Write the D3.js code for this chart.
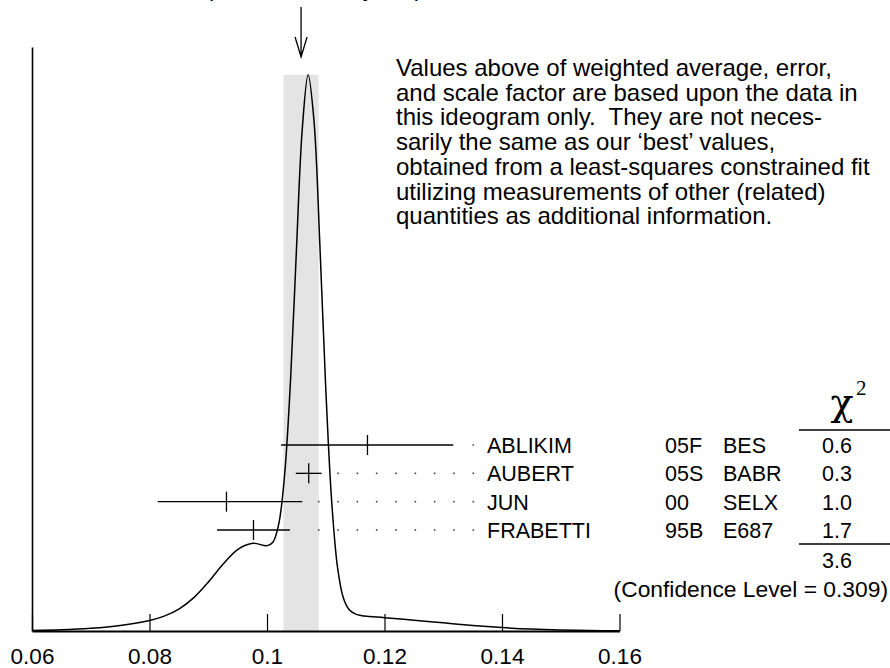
<!DOCTYPE html>
<html lang="en">
<head>
<meta charset="UTF-8">
<title>Ideogram</title>
<script src="https://d3js.org/d3.v7.min.js"></script>
<style>
    html, body { margin: 0; padding: 0; background: #fff; }
    svg { display: block; font-family: "Liberation Sans", Arial, Helvetica, sans-serif; }
</style>
</head>
<body>
<div id="chart"></div>
<script>
    var names = ["ABLIKIM", "AUBERT", "JUN", "FRABETTI"];
    var years = ["05F", "05S", "00", "95B"];
    var experiments = ["BES", "BABR", "SELX", "E687"];
    var values = [0.1171, 0.1071, 0.0931, 0.0977];
    var errLo = [0.0147, 0.0022, 0.0117, 0.0062];
    var errHi = [0.0146, 0.0022, 0.0129, 0.0062];
    var chi2 = ["0.6", "0.3", "1.0", "1.7"];
    var chi2Total = "3.6";
    var confLevel = "0.309";

    // weighted average and its (scaled) error
    var avgValue = 0.1058;
    var avgError = 0.0030;

    var xTicks = [0.06, 0.08, 0.1, 0.12, 0.14, 0.16];

    // ideogram curve, relative height (1 = peak)
    var curveX = [0.060, 0.065, 0.070, 0.075, 0.080, 0.0825, 0.085, 0.0875, 0.090, 0.0925,
        0.095, 0.0976, 0.100, 0.101, 0.102, 0.103, 0.104, 0.105, 0.106, 0.107,
        0.108, 0.109, 0.110, 0.111, 0.112, 0.113, 0.114, 0.115, 0.116, 0.117,
        0.120, 0.125, 0.130, 0.135, 0.140, 0.145, 0.150, 0.155, 0.160];
    var curveY = [0.0008, 0.0021, 0.0050, 0.0101, 0.0190, 0.0268, 0.0395, 0.0596, 0.0878, 0.1198,
        0.1465, 0.1577, 0.1534, 0.1596, 0.1924, 0.2809, 0.4495, 0.6825, 0.902, 1.0,
        0.917, 0.694, 0.4366, 0.2344, 0.1148, 0.0592, 0.0380, 0.0307, 0.0280, 0.0265,
        0.0240, 0.0195, 0.0147, 0.0100, 0.0062, 0.0034, 0.0017, 0.0007, 0.0003];

    var note = [
        "Values above of weighted average, error,",
        "and scale factor are based upon the data in",
        "this ideogram only.  They are not neces-",
        "sarily the same as our \u2018best\u2019 values,",
        "obtained from a least-squares constrained fit",
        "utilizing measurements of other (related)",
        "quantities as additional information."
    ];

    var width = 890, height = 668;

    var svg = d3.select("#chart").append("svg")
        .attr("width", width)
        .attr("height", height);

    var x = d3.scaleLinear().domain([0.06, 0.16]).range([32, 619.5]);
    var y = d3.scaleLinear().domain([0, 1.05]).range([631, 47]);
    var row = d3.scalePoint().domain(names).range([445, 530]);

    // band of weighted average +- error
    svg.append("rect")
        .attr("x", x(avgValue - avgError))
        .attr("y", y(1))
        .attr("width", x(avgValue + avgError) - x(avgValue - avgError))
        .attr("height", y(0) - y(1))
        .attr("fill", "#e4e4e4");

    // arrow above the average
    var ax = x(avgValue);
    svg.append("path")
        .attr("d", "M" + ax + ",7V57M" + (ax - 6) + ",37L" + ax + ",57L" + (ax + 6) + ",37")
        .attr("fill", "none")
        .attr("stroke", "#000")
        .attr("stroke-width", 1.3);

    // header line, almost entirely off the top of the page
    svg.append("text")
        .attr("x", 314)
        .attr("y", -4)
        .attr("text-anchor", "middle")
        .style("font-size", "24px")
        .text("(Error scaled by 1.3)");

    // axes
    var xAxis = d3.axisBottom(x)
        .tickValues(xTicks)
        .tickSize(-17)
        .tickSizeOuter(0)
        .tickPadding(17)
        .tickFormat(d3.format("~g"));

    var gx = svg.append("g")
        .attr("transform", "translate(0," + y(0) + ")")
        .call(xAxis);
    gx.select(".domain").attr("stroke-width", 2);
    gx.selectAll(".tick line").attr("stroke-width", 1.2);
    gx.selectAll(".tick text")
        .attr("fill", "#000")
        .style("font-size", "22.5px")
        .style("font-family", "\"Liberation Sans\", Arial, sans-serif");

    var gy = svg.append("g")
        .attr("transform", "translate(" + x(0.06) + ",0)")
        .call(d3.axisLeft(y).tickValues([]).tickSizeOuter(0));
    gy.select(".domain").attr("stroke-width", 1.6);

    // ideogram curve
    var pts = curveX.map(function (d, i) { return [d, curveY[i]]; });
    var line = d3.line()
        .x(function (d) { return x(d[0]); })
        .y(function (d) { return y(d[1]); })
        .curve(d3.curveCatmullRom.alpha(0.5));

    svg.append("path")
        .datum(pts)
        .attr("d", line)
        .attr("fill", "none")
        .attr("stroke", "#000")
        .attr("stroke-width", 1.5);

    // dotted leaders
    var dotStart = x(avgValue + avgError);
    var dotEnd = 473.3;
    var nDots = 8;
    names.forEach(function (n, i) {
        var barEnd = x(values[i] + errHi[i]);
        var dots = d3.range(nDots + 1)
            .map(function (k) { return dotStart + k * (dotEnd - dotStart) / nDots; })
            .filter(function (px) { return px > barEnd + 6; });
        svg.selectAll(null)
            .data(dots)
            .enter().append("rect")
            .attr("x", function (d) { return d - 0.8; })
            .attr("y", row(n) - 0.8)
            .attr("width", 1.6)
            .attr("height", 1.6)
            .attr("fill", "#444");
    });

    // error bars
    var bars = svg.selectAll(".meas")
        .data(names)
        .enter().append("g")
        .attr("class", "meas")
        .attr("stroke", "#000")
        .attr("stroke-width", 1.3);

    bars.append("line")
        .attr("x1", function (d, i) { return x(values[i] - errLo[i]); })
        .attr("x2", function (d, i) { return x(values[i] + errHi[i]); })
        .attr("y1", function (d) { return row(d); })
        .attr("y2", function (d) { return row(d); });

    bars.append("line")
        .attr("x1", function (d, i) { return x(values[i]); })
        .attr("x2", function (d, i) { return x(values[i]); })
        .attr("y1", function (d) { return row(d) - 10; })
        .attr("y2", function (d) { return row(d) + 10; });

    // table of measurements
    var tfont = "21.5px";
    function col(arr, xpos, anchor) {
        svg.selectAll(null)
            .data(arr)
            .enter().append("text")
            .attr("x", xpos)
            .attr("y", function (d, i) { return row(names[i]) + 8; })
            .attr("text-anchor", anchor)
            .style("font-size", tfont)
            .text(function (d) { return d; });
    }
    col(names, 487, "start");
    col(years, 665, "start");
    col(experiments, 723, "start");
    col(chi2, 837, "middle");

    // chi-square header and rules
    svg.append("text")
        .attr("x", 842)
        .attr("y", 415)
        .attr("text-anchor", "middle")
        .style("font-family", "\"DejaVu Serif\", serif")
        .style("font-size", "38px")
        .text("\u03c7");
    svg.append("text")
        .attr("x", 856)
        .attr("y", 395)
        .style("font-family", "\"Liberation Serif\", serif")
        .style("font-size", "21px")
        .text("2");

    [430, 544].forEach(function (ly) {
        svg.append("line")
            .attr("x1", 799).attr("x2", 890)
            .attr("y1", ly).attr("y2", ly)
            .attr("stroke", "#000")
            .attr("stroke-width", 1.3);
    });

    svg.append("text")
        .attr("x", 837)
        .attr("y", 568)
        .attr("text-anchor", "middle")
        .style("font-size", tfont)
        .text(chi2Total);

    svg.append("text")
        .attr("x", 888)
        .attr("y", 597)
        .attr("text-anchor", "end")
        .style("font-size", "22.8px")
        .text("(Confidence Level = " + confLevel + ")");

    // explanatory note
    svg.append("text")
        .attr("x", 396)
        .attr("y", 76)
        .style("font-size", "24px")
        .style("white-space", "pre")
        .selectAll("tspan")
        .data(note)
        .enter().append("tspan")
        .attr("x", 396)
        .attr("dy", function (d, i) { return i === 0 ? 0 : 24.7; })
        .text(function (d) { return d; });
</script>
</body>
</html>
